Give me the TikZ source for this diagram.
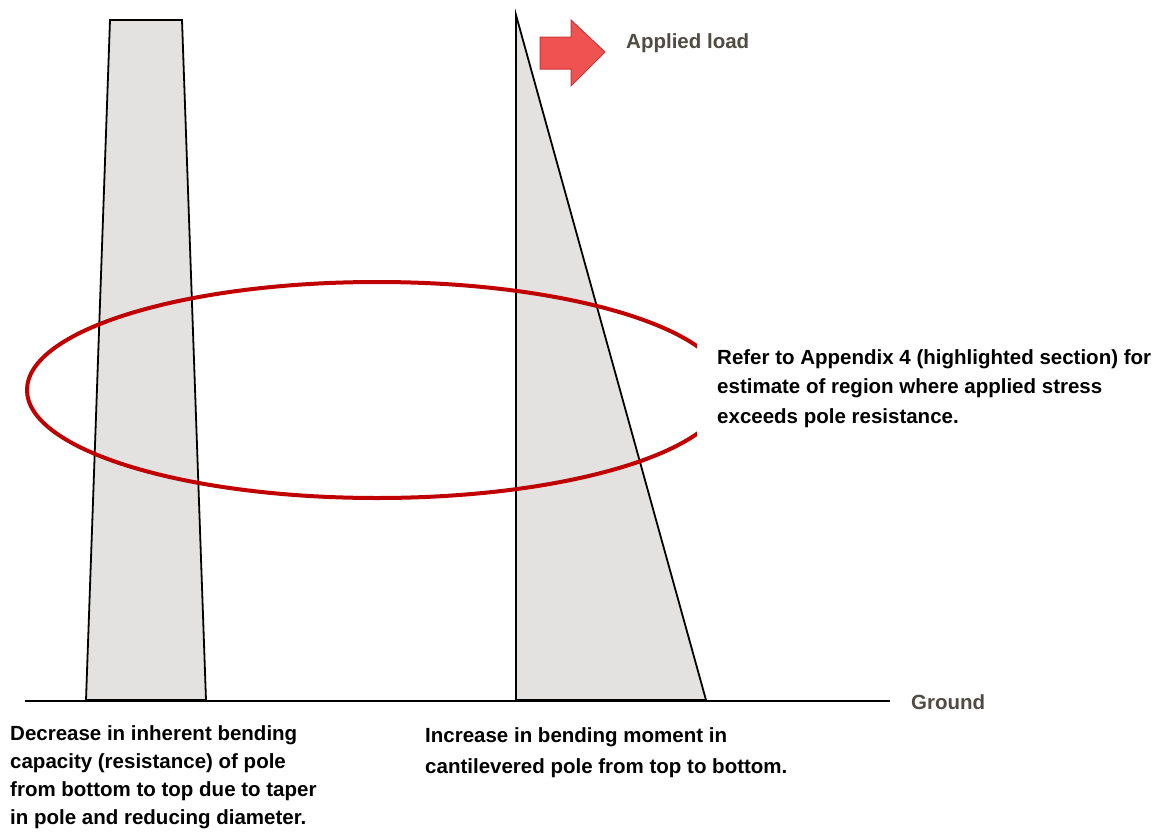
\documentclass[tikz,border=0pt]{standalone}
\usepackage{fontspec}
\setmainfont{Liberation Sans}
\definecolor{polefill}{HTML}{E3E2E1}
\definecolor{ringred}{HTML}{C00000}
\definecolor{labelgray}{HTML}{504B44}
\definecolor{arrowfill}{HTML}{F05252}
\definecolor{arrowdraw}{HTML}{C83838}
\begin{document}
\begin{tikzpicture}[x=1pt,y=-1pt,
  pole/.style={draw=black,line width=1.8pt,fill=polefill,line join=miter},
  txt/.style={font=\bfseries\fontsize{20.5}{28}\selectfont,anchor=north west,inner sep=0pt,align=left},
  gray label/.style={font=\bfseries\fontsize{20.5}{24}\selectfont,text=labelgray,inner sep=0pt,anchor=west}]
\useasboundingbox (0,0) rectangle (1173,835);
% left pole
\draw[pole] (110,20) -- (182,20) -- (206,700) -- (86,700) -- cycle;
% right triangle
\draw[pole] (516,15) -- (706,700) -- (516,700) -- cycle;
% ground
\coordinate (g1) at (25,701);
\coordinate (g2) at (890,701);
\draw[line width=1.2pt] (g1) -- (g2);
\node[gray label] (ground) at (911,702) {Ground};
% applied load arrow
\draw[fill=arrowfill,draw=arrowdraw,line width=1pt,line join=miter]
  (540,37) -- (571,37) -- (571,20) -- (605,52) -- (571,86) -- (571,69) -- (540,69) -- cycle;
\node[gray label] (load) at (626,43) {Applied load};
% ellipse
\draw[ringred,line width=4pt] (377,390) ellipse [x radius=350, y radius=108];
% right note with white background
\fill[white] (697,300) rectangle (1173,470);
\node[txt,font=\bfseries\fontsize{20.5}{29.5}\selectfont] (note) at (717,349) {Refer to Appendix 4 (highlighted section) for\\estimate of region where applied stress\\exceeds pole resistance.};
% bottom texts
\node[txt] (left) at (10,725) {Decrease in inherent bending\\capacity (resistance) of pole\\from bottom to top due to taper\\in pole and reducing diameter.};
\node[txt,font=\bfseries\fontsize{20.5}{31}\selectfont] (mid) at (425,727) {Increase in bending moment in\\cantilevered pole from top to bottom.};
\end{tikzpicture}
\end{document}
